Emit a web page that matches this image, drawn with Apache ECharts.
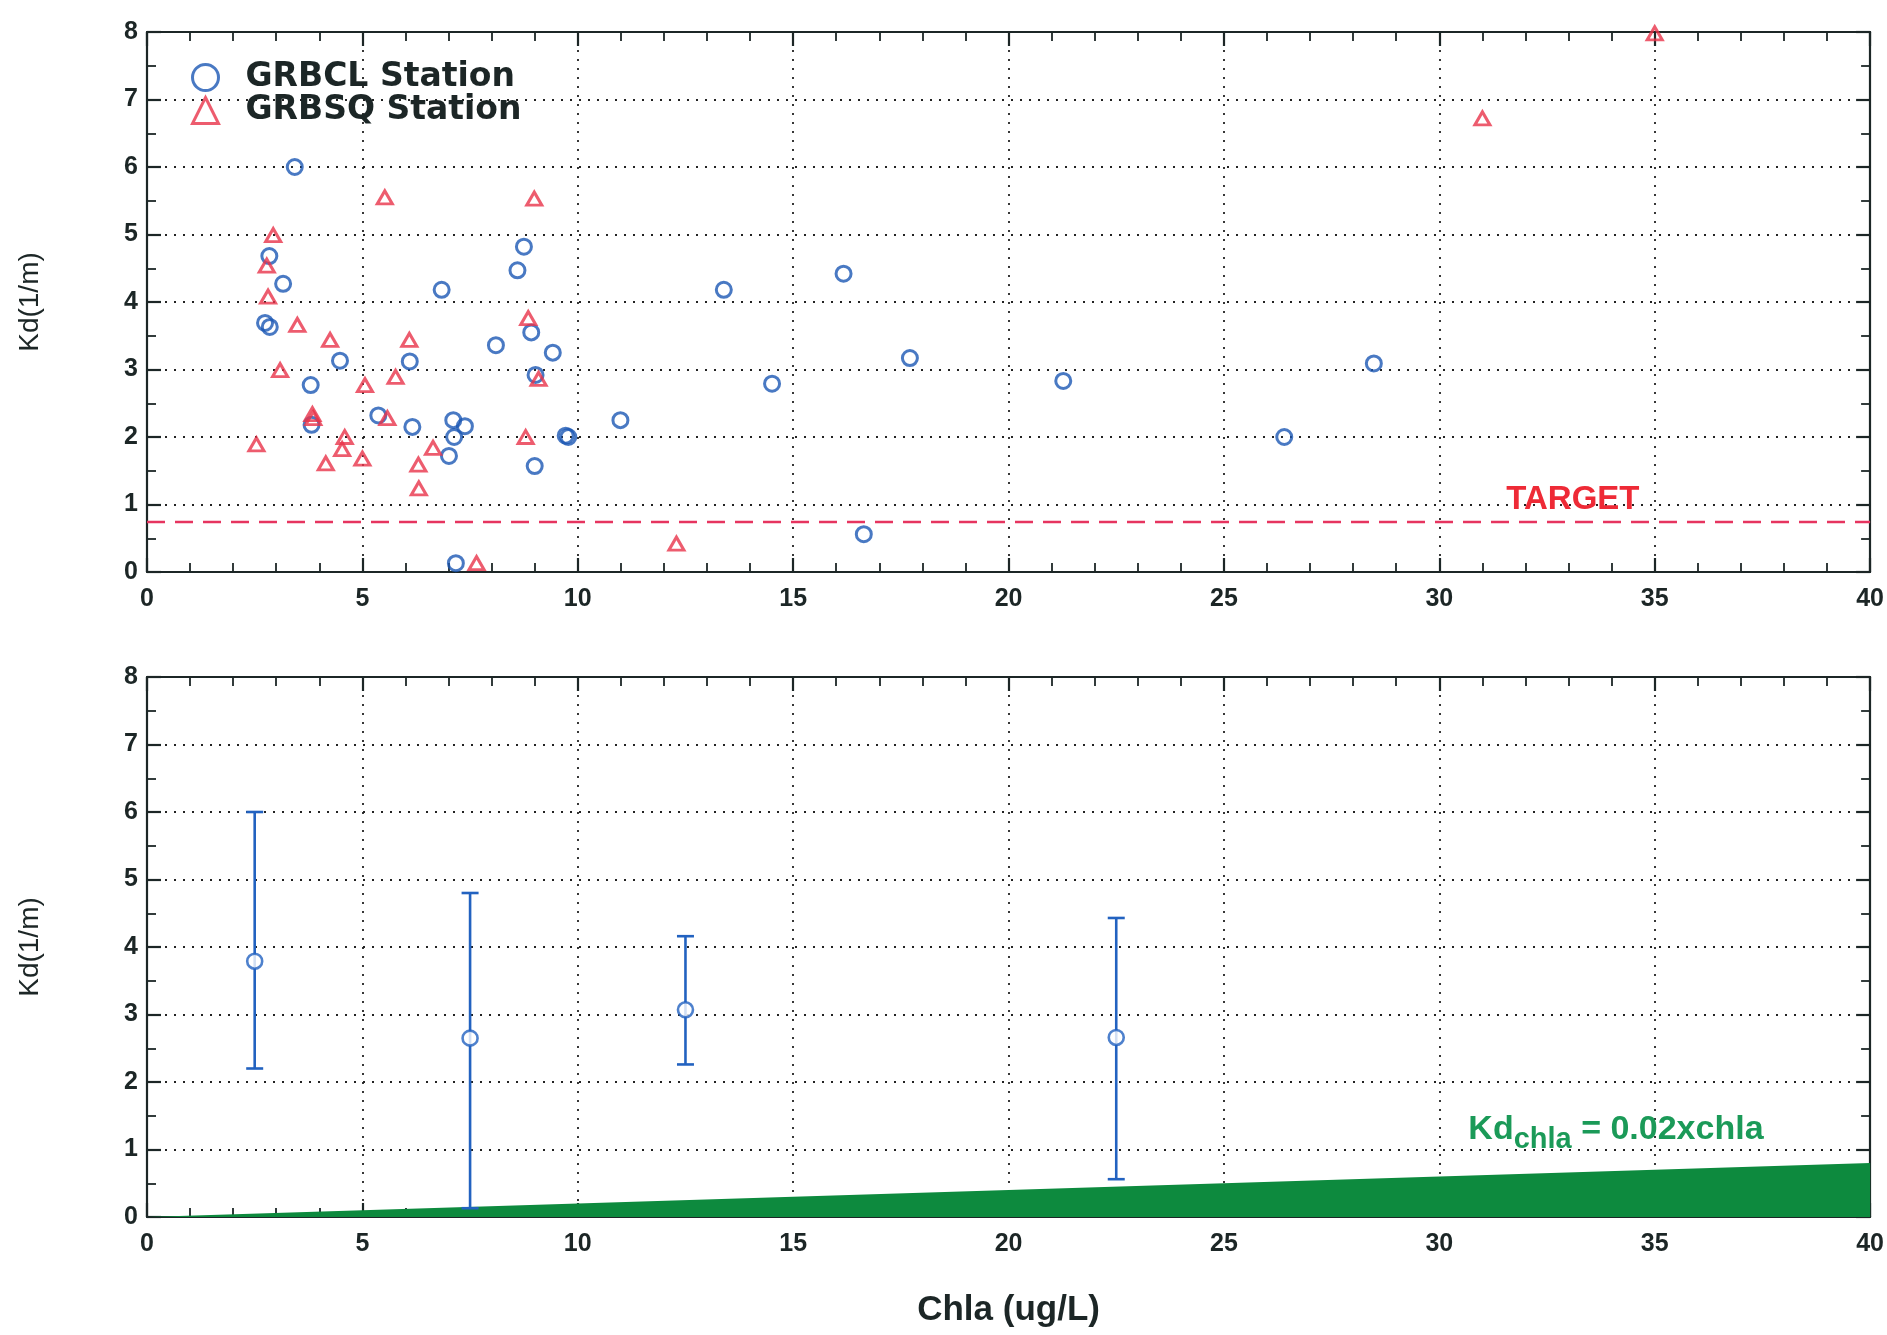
<!DOCTYPE html>
<html>
<head>
<meta charset="utf-8">
<script src="https://cdn.jsdelivr.net/npm/echarts@6/dist/echarts.min.js"></script>
<style>
  html, body { margin: 0; padding: 0; background: #fff; }
  #chart { width: 1887px; height: 1335px; }
</style>
</head>
<body>
<div id="chart"></div>
<script>
// top panel: GRBCL station, chla (ug/L) vs Kd (1/m)
const grbclChla = [3.43, 2.84, 8.75, 8.60, 6.84, 3.16, 2.74, 2.85, 8.92, 8.10, 9.42, 4.48, 6.10, 9.02, 3.80,
  5.37, 3.82, 6.16, 7.11, 7.38, 7.13, 9.72, 9.78, 7.01, 9.00, 7.17, 10.99, 13.39, 14.51, 16.17, 16.64,
  17.71, 21.27, 26.40, 28.48];
const grbclKd = [6.00, 4.68, 4.82, 4.47, 4.18, 4.27, 3.69, 3.63, 3.55, 3.36, 3.25, 3.13, 3.12, 2.92, 2.77,
  2.32, 2.18, 2.15, 2.25, 2.16, 2.00, 2.02, 2.00, 1.72, 1.57, 0.13, 2.25, 4.18, 2.79, 4.42, 0.56,
  3.17, 2.83, 2.00, 3.09];

// top panel: GRBSQ station
const grbsqChla = [2.93, 2.78, 5.52, 8.99, 2.81, 8.85, 3.49, 4.25, 6.09, 3.09, 5.77, 9.09, 5.06, 3.84, 3.86,
  5.58, 4.59, 8.79, 2.54, 4.53, 6.64, 5.00, 4.15, 6.30, 6.31, 7.65, 12.29, 31.00, 35.00];
const grbsqKd = [4.99, 4.54, 5.55, 5.53, 4.08, 3.76, 3.66, 3.44, 3.44, 2.99, 2.89, 2.86, 2.77, 2.34, 2.28,
  2.28, 2.00, 2.00, 1.89, 1.82, 1.84, 1.68, 1.61, 1.59, 1.24, 0.13, 0.42, 6.72, 7.98];

const targetKd = 0.75;

// bottom panel: binned mean with min / max
const binChla = [2.5, 7.5, 12.5, 22.5];
const binMean = [3.79, 2.65, 3.07, 2.66];
const binLow = [2.20, 0.13, 2.26, 0.56];
const binHigh = [6.00, 4.80, 4.16, 4.43];

// Kd_chla = 0.02 x chla line ends
const chlaLineX = [0, 40];
const chlaLineKd = [0, 0.8];

const xTicks = { min: 0, max: 40, interval: 5 };
const yTicks = { min: 0, max: 8, interval: 1 };

const blue = '#1b58b4';
const red = '#e8334a';
const green = '#0d8a3e';
const ink = '#1c2626';
const font = '"Liberation Sans", Arial, sans-serif';

const zip = (a, b) => a.map((v, i) => [v, b[i]]);

// one axis (bottom/top or left/right), ticks inward like the original
const makeAxis = (dim, gridIndex, position, main) => {
  const t = dim === 'x' ? xTicks : yTicks;
  const axis = {
    type: 'value',
    gridIndex: gridIndex,
    position: position,
    min: t.min,
    max: t.max,
    interval: t.interval,
    axisLine: { show: true, onZero: false, lineStyle: { color: ink, width: 2.2 } },
    axisTick: { show: true, inside: true, length: 14, lineStyle: { color: ink, width: 2.2 } },
    minorTick: { show: true, splitNumber: dim === 'x' ? 5 : 2, length: 9, lineStyle: { color: ink, width: 1.8 } },
    splitLine: { show: main, lineStyle: { color: '#222', type: [2, 7], width: 1.8 } },
    axisLabel: { show: main, color: ink, fontFamily: font, fontWeight: 'bold', fontSize: 25 }
  };
  if (main && dim === 'x') {
    axis.axisLabel.margin = 15;
  }
  if (main && dim === 'y') {
    axis.axisLabel.margin = 9;
    axis.axisLabel.padding = [0, 0, 14, 0];
    axis.name = 'Kd(1/m)';
    axis.nameLocation = 'middle';
    axis.nameGap = 103;
    axis.nameTextStyle = { color: ink, fontFamily: font, fontSize: 28 };
  }
  return axis;
};

const xAxis = [
  makeAxis('x', 0, 'bottom', true),
  makeAxis('x', 0, 'top', false),
  makeAxis('x', 1, 'bottom', true),
  makeAxis('x', 1, 'top', false)
];
xAxis[2].name = 'Chla (ug/L)';
xAxis[2].nameLocation = 'middle';
xAxis[2].nameGap = 76;
xAxis[2].nameTextStyle = { color: ink, fontFamily: font, fontWeight: 'bold', fontSize: 35 };

const yAxis = [
  makeAxis('y', 0, 'left', true),
  makeAxis('y', 0, 'right', false),
  makeAxis('y', 1, 'left', true),
  makeAxis('y', 1, 'right', false)
];

const option = {
  backgroundColor: '#fff',
  animation: false,
  grid: [
    { left: 147, right: 16, top: 32, height: 540 },
    { left: 147, right: 16, top: 677, height: 540 }
  ],
  legend: {
    data: ['GRBCL Station', 'GRBSQ Station'],
    orient: 'vertical',
    left: 186,
    top: 56,
    itemWidth: 26,
    itemHeight: 26,
    itemGap: 0,
    itemStyle: { borderWidth: 3 },
    textStyle: {
      color: ink,
      fontFamily: '"DejaVu Sans", sans-serif',
      fontWeight: 'bold',
      fontSize: 33,
      lineHeight: 33,
      padding: [0, 0, 0, 22]
    }
  },
  xAxis: xAxis,
  yAxis: yAxis,
  series: [
    {
      name: 'GRBCL Station',
      type: 'scatter',
      xAxisIndex: 0,
      yAxisIndex: 0,
      symbol: 'circle',
      symbolSize: 15,
      itemStyle: { color: 'rgba(255,255,255,0)', borderColor: blue, borderWidth: 3 },
      emphasis: { disabled: true },
      data: zip(grbclChla, grbclKd),
      z: 4
    },
    {
      name: 'GRBSQ Station',
      type: 'scatter',
      xAxisIndex: 0,
      yAxisIndex: 0,
      symbol: 'triangle',
      symbolSize: [15, 13],
      itemStyle: { color: 'rgba(255,255,255,0)', borderColor: red, borderWidth: 3 },
      emphasis: { disabled: true },
      data: zip(grbsqChla, grbsqKd),
      z: 4,
      markLine: {
        silent: true,
        symbol: 'none',
        label: { show: false },
        lineStyle: { color: '#e6345f', type: [18, 10], width: 2.4 },
        data: [{ yAxis: targetKd }]
      },
      markPoint: {
        silent: true,
        symbol: 'circle',
        symbolSize: 1,
        itemStyle: { color: 'rgba(0,0,0,0)' },
        label: {
          show: true,
          position: 'inside',
          formatter: 'TARGET',
          color: '#ee2a36',
          fontFamily: font,
          fontWeight: 'bold',
          fontSize: 33
        },
        data: [{ coord: [33.1, 1.07] }]
      }
    },
    {
      name: 'Kd chla',
      type: 'line',
      xAxisIndex: 2,
      yAxisIndex: 2,
      symbol: 'none',
      lineStyle: { width: 0 },
      areaStyle: { color: green, opacity: 1 },
      data: zip(chlaLineX, chlaLineKd),
      z: 1,
      markPoint: {
        silent: true,
        symbol: 'circle',
        symbolSize: 1,
        itemStyle: { color: 'rgba(0,0,0,0)' },
        label: {
          show: true,
          position: 'inside',
          formatter: '{m|Kd}{s|chla}{m| = 0.02xchla}',
          rich: {
            m: { color: '#1b9a58', fontFamily: font, fontWeight: 'bold', fontSize: 34, lineHeight: 34 },
            s: { color: '#1b9a58', fontFamily: font, fontWeight: 'bold', fontSize: 29, lineHeight: 29, padding: [22, 0, 0, 0] }
          }
        },
        data: [{ coord: [34.1, 1.3] }]
      }
    },
    {
      name: 'range',
      type: 'custom',
      xAxisIndex: 2,
      yAxisIndex: 2,
      encode: { x: 0, y: [1, 2] },
      data: binChla.map((c, i) => [c, binLow[i], binHigh[i]]),
      z: 3,
      renderItem: function (params, api) {
        const x = api.value(0);
        const pLo = api.coord([x, api.value(1)]);
        const pHi = api.coord([x, api.value(2)]);
        const hw = 8.5;
        const st = { stroke: '#2262c0', lineWidth: 2.6 };
        return {
          type: 'group',
          children: [
            { type: 'line', shape: { x1: pLo[0], y1: pLo[1], x2: pHi[0], y2: pHi[1] }, style: st },
            { type: 'line', shape: { x1: pHi[0] - hw, y1: pHi[1], x2: pHi[0] + hw, y2: pHi[1] }, style: st },
            { type: 'line', shape: { x1: pLo[0] - hw, y1: pLo[1], x2: pLo[0] + hw, y2: pLo[1] }, style: st }
          ]
        };
      }
    },
    {
      name: 'mean',
      type: 'scatter',
      xAxisIndex: 2,
      yAxisIndex: 2,
      symbol: 'circle',
      symbolSize: 15,
      itemStyle: { color: '#fff', borderColor: '#2262c0', borderWidth: 2.6 },
      emphasis: { disabled: true },
      data: zip(binChla, binMean),
      z: 5
    }
  ]
};

const myChart = echarts.init(document.getElementById('chart'));
myChart.setOption(option);
window.onresize = () => {
  myChart.resize();
};
</script>
</body>
</html>
